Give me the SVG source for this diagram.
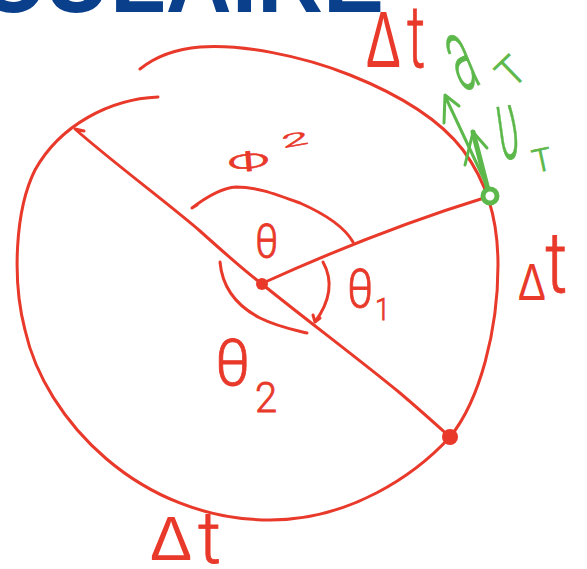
<svg xmlns="http://www.w3.org/2000/svg" width="587" height="569" viewBox="0 0 587 569">
<style>
.r{fill:none;stroke:#e8392a;stroke-width:3;stroke-linecap:round;stroke-linejoin:round}
.g{fill:none;stroke:#5cb84a;stroke-width:3;stroke-linecap:round;stroke-linejoin:round}
.rt{fill:#e8392a;stroke:#e8392a;stroke-width:0.8;font-family:Roboto,"Open Sans",sans-serif;font-weight:300}
.gt{fill:#5cb84a;stroke:#5cb84a;stroke-width:0.8;font-family:Roboto,"Open Sans",sans-serif;font-weight:300}
.d{font-family:"Liberation Sans",Arial,sans-serif;font-weight:normal;stroke-width:0}
.title{fill:#0a3f8c;font-family:"Liberation Sans",Arial,sans-serif;font-weight:bold}
</style>
<rect width="587" height="569" fill="#ffffff"/>
<text class="title" x="-22" y="12" font-size="96" textLength="406" lengthAdjust="spacingAndGlyphs">CULAIRE</text>
<g id="connectors">
<path class="r" d="M158,97 C110,99 60,125 35,170 C15,210 12,280 25,330 C45,420 140,520 270,520 C350,520 415,475 450,437 C480,400 498,330 498,265 C498,215 485,180 463,150 C440,120 400,95 350,75 C300,55 240,44 200,47 C175,49 155,57 140,69"/>
<path class="r" d="M84,131 L75,129 C110,160 170,205 200,231 C230,258 250,275 262,284 C300,315 360,360 400,393 C420,410 440,428 450,437"/>
<path class="r" d="M263,283 Q380,230 484,198"/>
<path class="r" d="M197,205 L192,208 C205,198 220,188 236,187 C255,187 270,192 300,203 C325,214 345,228 353,242"/>
<path class="r" d="M220,262 C222,285 235,305 260,318 C278,327 295,330 307,333"/>
<path class="r" d="M323,262 C333,280 331,300 315,322 M313,315 L315,322 L320,318"/>
</g>
<g id="center-point"><circle cx="262" cy="284" r="6" fill="#e8392a"/></g>
<g id="edge-point"><circle cx="450" cy="437" r="8" fill="#e8392a"/></g>
<g id="vectors">
<path class="g" d="M490,192 L445,96 M459,106 L445,95 L444,123"/>
<path class="g" style="stroke-width:5" d="M488,190 L473,132"/>
<path class="g" d="M487,148 L473,132 L465,165"/>
<circle cx="490" cy="196" r="7" fill="#ffffff" stroke="#5cb84a" stroke-width="5"/>
</g>
<g id="labels">
<text class="rt" transform="translate(366,67) scale(0.65,1)"><tspan class="d" x="0" y="0" font-size="80">Δ</tspan><tspan x="63" y="0" font-size="88">t</tspan></text>
<text class="gt" font-size="105" transform="translate(462,92) rotate(-23) scale(0.4,1)">a</text>
<text class="gt" font-size="40" transform="translate(512,90) rotate(-44)">T</text>
<text class="gt" font-size="100" transform="translate(501,160) rotate(-8) scale(0.4,1)">υ</text>
<text class="gt" font-size="32" transform="translate(535,173) rotate(-12)">T</text>
<text class="rt" font-size="40" transform="translate(228,173) rotate(-5) scale(1.5,0.7)">Φ</text>
<text class="rt" font-size="24" transform="translate(283,148) rotate(-10) scale(2,0.75)">2</text>
<text class="rt" font-size="48" transform="translate(255,258) scale(0.85,1)">θ</text>
<text class="rt" transform="translate(347,0) scale(0.85,1)"><tspan x="0" y="307" font-size="54">θ</tspan><tspan x="33" y="320" font-size="32">1</tspan></text>
<text class="rt" transform="translate(215,0) scale(0.95,1)"><tspan x="0" y="385" font-size="65">θ</tspan><tspan x="42" y="412" font-size="42">2</tspan></text>
<text class="rt" transform="translate(518,0) scale(0.8,1)"><tspan class="d" x="0" y="300" font-size="52">Δ</tspan><tspan x="34" y="292" font-size="86">t</tspan></text>
<text class="rt"><tspan class="d" x="150" y="560" font-size="63">Δ</tspan><tspan x="198" y="563" font-size="72">t</tspan></text>
</g>
</svg>
